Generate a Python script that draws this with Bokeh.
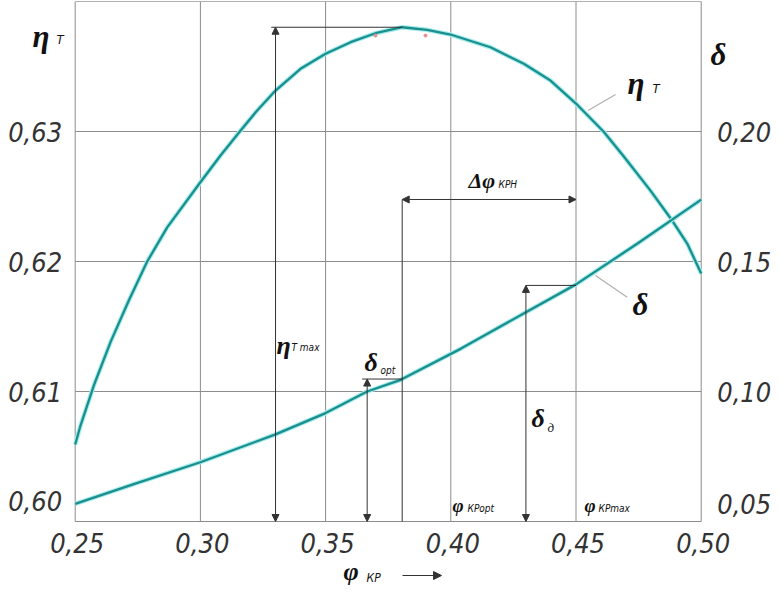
import numpy as np
from bokeh.plotting import figure
from bokeh.models import Range1d, Label, Arrow, NormalHead
from bokeh.embed import file_html
from bokeh.resources import INLINE

# ---------------- data ----------------
phi_eta = [0.25, 0.25212, 0.25743, 0.26410, 0.27141, 0.27875, 0.28674, 0.30,
           0.30803, 0.31574, 0.32268, 0.33, 0.33998, 0.35, 0.36, 0.36993,
           0.38059, 0.39058, 0.39988, 0.41585, 0.42915, 0.43981, 0.45, 0.46098,
           0.46909, 0.47975, 0.48841, 0.49441, 0.50]
eta_t = [0.60592, 0.60738, 0.61046, 0.61380, 0.61700, 0.62000, 0.62262, 0.62610,
         0.62815, 0.63000, 0.63162, 0.63315, 0.63482, 0.63598, 0.63687, 0.63756,
         0.63802, 0.63782, 0.63746, 0.63648, 0.63521, 0.63392, 0.63215, 0.63000,
         0.62808, 0.62545, 0.62315, 0.62138, 0.61908]

phi_delta = [0.25, 0.2734, 0.30, 0.33, 0.35, 0.3666, 0.38, 0.4039, 0.43, 0.45,
             0.475, 0.50]
delta = [0.0568, 0.0644, 0.0728, 0.0835, 0.0917, 0.1000, 0.1045, 0.1164, 0.1305,
         0.1412, 0.1572, 0.1738]

x_ticks = [0.25, 0.30, 0.35, 0.40, 0.45, 0.50]
x_tick_labels = ["0,25", "0,30", "0,35", "0,40", "0,45", "0,50"]
eta_ticks = [0.60, 0.61, 0.62, 0.63]
eta_tick_labels = ["0,60", "0,61", "0,62", "0,63"]
delta_ticks = [0.05, 0.10, 0.15, 0.20]
delta_tick_labels = ["0,05", "0,10", "0,15", "0,20"]

# annotation anchors (x values / levels)
phi_eta_max_mark = 0.33
phi_delta_opt_mark = 0.3666
phi_delta_d_mark = 0.43
phi_kp_max = 0.45
delta_d_level = 0.1408
dphi_level = 0.62477
eta_top = 0.64

# small stray points in the drawing
stray_x = [0.36993, 0.38989]
stray_y = [0.63738, 0.63738]

# ---------------- figure geometry ----------------
W, H = 772, 589
L_PX, B_PX = 74.7, 521.0          # where phi=0.25 and eta=0.60 sit (px)
SX, SY = 2504.0, 13000.0          # px per unit
x0 = 0.25 - L_PX / SX
x1 = 0.25 + (W - L_PX) / SX
y0 = 0.60 - (H - B_PX) / SY
y1 = 0.60 + B_PX / SY
e2d = lambda e: 0.05 + (e - 0.60) * 5.0
d2e = lambda d: 0.60 + (d - 0.05) / 5.0

p = figure(width=W, height=H, output_backend="svg", toolbar_location=None,
           x_range=Range1d(x0, x1), y_range=Range1d(y0, y1),
           min_border=0)
p.extra_y_ranges = {"delta": Range1d(e2d(y0), e2d(y1))}
p.xaxis.visible = False
p.yaxis.visible = False
p.grid.visible = False
p.outline_line_color = None
p.background_fill_color = "white"
p.border_fill_color = "white"

GRID = "#8c8c8c"
# grid and frame
p.segment(x0=x_ticks, y0=[0.60] * len(x_ticks), x1=x_ticks,
          y1=[eta_top] * len(x_ticks), line_color=GRID, line_width=1)
p.segment(x0=[x_ticks[0]] * len(eta_ticks), y0=eta_ticks,
          x1=[x_ticks[-1]] * len(eta_ticks), y1=eta_ticks,
          line_color=GRID, line_width=1)
p.segment(x0=[x_ticks[0]], y0=[eta_top], x1=[x_ticks[-1]], y1=[eta_top],
          line_color="#b0b0b0", line_width=1)

CURVE = "#1b8e8e"
GLOW = "#a5ecec"
p.line(phi_eta, eta_t, line_color=GLOW, line_width=4.5, line_join="round")
p.line(phi_eta, eta_t, line_color=CURVE, line_width=2.3, line_join="round")
p.line(phi_delta, delta, line_color=GLOW, line_width=4.5, y_range_name="delta",
       line_join="round")
p.line(phi_delta, delta, line_color=CURVE, line_width=2.3, y_range_name="delta",
       line_join="round")
p.scatter(stray_x, stray_y, size=3, color="#e09090")

# ---------------- annotations ----------------
LC = "#333333"
eta_max = max(eta_t)
x_opt = phi_eta[int(np.argmax(eta_t))]
delta_opt = float(np.interp(x_opt, phi_delta, delta))


def head():
    return NormalHead(size=7, fill_color=LC, line_color=LC, line_width=1)


def arrow(xa, ya, xb, yb, both=True, rng="default"):
    p.add_layout(Arrow(x_start=xa, y_start=ya, x_end=xb, y_end=yb, line_color=LC,
                       line_width=1, end=head(), start=head() if both else None,
                       y_range_name=rng))


# eta_T max
arrow(phi_eta_max_mark, 0.60, phi_eta_max_mark, eta_max)
p.segment(x0=[phi_eta_max_mark - 0.0017], y0=[eta_max], x1=[x_opt], y1=[eta_max],
          line_color=LC, line_width=1)
# delta_opt
arrow(phi_delta_opt_mark, 0.05, phi_delta_opt_mark, delta_opt, rng="delta")
p.segment(x0=[phi_delta_opt_mark - 0.002], y0=[d2e(delta_opt)], x1=[x_opt],
          y1=[d2e(delta_opt)], line_color=LC, line_width=1)
# phi_opt vertical
p.segment(x0=[x_opt], y0=[0.60], x1=[x_opt], y1=[dphi_level], line_color=LC,
          line_width=1)
# delta phi
arrow(x_opt, dphi_level, phi_kp_max, dphi_level)
# delta_d
arrow(phi_delta_d_mark, 0.05, phi_delta_d_mark, delta_d_level, rng="delta")
p.segment(x0=[phi_delta_d_mark], y0=[d2e(delta_d_level)], x1=[phi_kp_max],
          y1=[d2e(delta_d_level)], line_color=LC, line_width=1)
# leaders
p.segment(x0=[0.4548, 0.45778], y0=[0.63162, d2e(0.14462)],
          x1=[0.4658, 0.47045], y1=[0.63285, d2e(0.13627)],
          line_color="#b0b0b0", line_width=1.2)


# ---------------- text ----------------
def scr(xr, yr):
    # page pixel -> screen units of the frame (origin bottom-left)
    return xr, H - yr


SERIF = "'Liberation Serif', 'DejaVu Serif', serif"
SUB = "'Liberation Sans Narrow', 'DejaVu Sans Condensed', Roboto, sans-serif"


def txt(s, xr, yr, size, font=SERIF, style="bold italic", align="left",
        color="#111111"):
    x, y = scr(xr, yr)
    p.add_layout(Label(x=x, y=y, x_units="screen", y_units="screen", text=s,
                       text_font=font, text_font_style=style,
                       text_font_size=f"{size}px", text_align=align,
                       text_baseline="middle", text_color=color))


# axis titles
txt("η", 32, 36, 31)
txt("Т", 56, 39, 13, font=SUB, style="italic")
txt("δ", 710, 54, 31)
txt("φ", 343, 571, 26)
txt("КР", 366, 577, 12, font=SUB, style="italic")
ax, ay = scr(402, 575)
bx, by = scr(441, 575)
p.add_layout(Arrow(x_start=ax, y_start=ay, x_end=bx, y_end=by,
                   start_units="screen", end_units="screen", line_color=LC,
                   line_width=1, end=NormalHead(size=8, fill_color=LC,
                                                line_color=LC)))
# curve labels
txt("η", 627, 83, 31)
txt("Т", 652, 88, 13, font=SUB, style="italic")
txt("δ", 632, 304, 31)
# annotation labels
txt("η", 276, 345, 26)
txt("Т max", 291, 347, 10, font=SUB, style="italic")
txt("δ", 364, 362, 26)
txt("opt", 380, 370, 10, font=SUB, style="italic")
txt("Δφ", 468, 180, 22)
txt("КРН", 498, 184, 10, font=SUB, style="italic")
txt("δ", 531, 418, 26)
txt("д", 547, 427, 13, style="italic")
txt("φ", 452, 505, 19)
txt("КРopt", 467, 508, 10, font=SUB, style="italic")
txt("φ", 584, 505, 19)
txt("КРmax", 598, 508, 10, font=SUB, style="italic")

# tick labels
TF = SUB
TS = "27px"
TC = "#333333"
for t, s in zip(x_ticks, x_tick_labels):
    p.add_layout(Label(x=t, y=0.60, text=s, text_font=TF, text_font_style="italic",
                       text_font_size=TS, text_align="center",
                       text_baseline="middle", y_offset=-21, x_offset=2,
                       text_color=TC))
for t, s in zip(eta_ticks, eta_tick_labels):
    p.add_layout(Label(x=0.25, y=t, text=s, text_font=TF, text_font_style="italic",
                       text_font_size=TS, text_align="right",
                       text_baseline="middle", x_offset=-13,
                       y_offset=21 if t == eta_ticks[0] else 0,
                       text_color=TC))
for t, s in zip(delta_ticks, delta_tick_labels):
    p.add_layout(Label(x=0.50, y=t, text=s, text_font=TF, text_font_style="italic",
                       text_font_size=TS, text_align="left",
                       text_baseline="middle", x_offset=16,
                       y_offset=18 if t == delta_ticks[0] else 0,
                       y_range_name="delta", text_color=TC))

open("out.html", "w").write(file_html(p, INLINE))
